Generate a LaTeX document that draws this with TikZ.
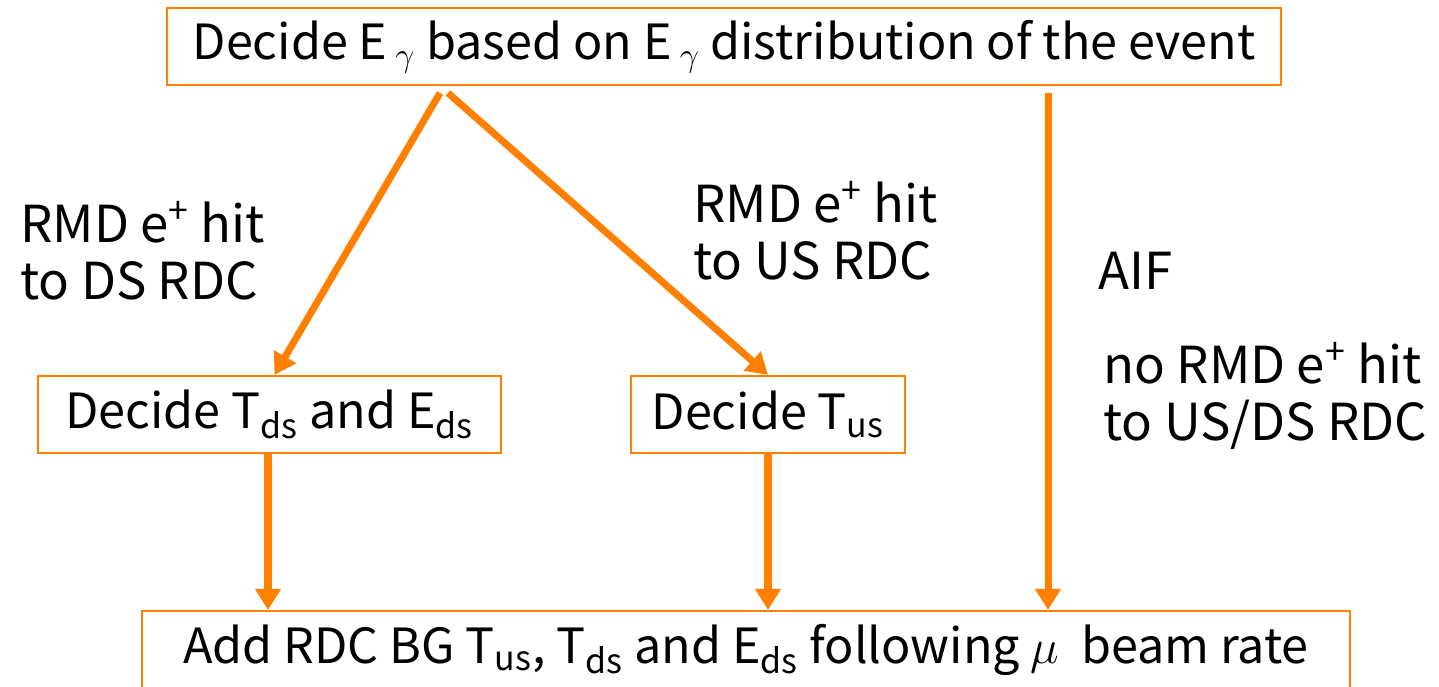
\documentclass[tikz,border=0pt]{standalone}
\usepackage{fix-cm}
\usepackage{fontspec}
\setmainfont{Noto Sans CJK JP}
\usetikzlibrary{arrows.meta, positioning}

\definecolor{flowOrange}{RGB}{255,127,0}

\tikzset{
    stepbox/.style={draw=flowOrange, line width=1.3pt, minimum height=1.54cm, inner sep=0pt,
        font=\fontsize{27.6}{33}\selectfont},
    flowarrow/.style={draw=flowOrange, line width=4pt, -{Triangle[width=14pt, length=12pt]}},
    branchlabel/.style={align=left, anchor=west, inner sep=0pt, font=\fontsize{29}{32.5}\selectfont}
}

\begin{document}
\begin{tikzpicture}[x=0.02cm, y=-0.02cm]
        \useasboundingbox (0,0) rectangle (1439,686);

        % boxes
        \node[stepbox, minimum width=22.28cm] (event) at (724,46.5)
            {Decide E\,$_{\gamma}$\ based on E\,$_{\gamma}$\ distribution of the event};
        \node[stepbox, minimum width=9.26cm] (ds) at (269.5,414.5)
            {Decide T\textsubscript{ds} and E\textsubscript{ds}};
        \node[stepbox, minimum width=5.48cm] (us) at (768,414.5) {Decide T\textsubscript{us}};
        \node[stepbox, minimum width=24.16cm, anchor=north] (add) at (746,610)
            {Add RDC BG T\textsubscript{us}, T\textsubscript{ds} and E\textsubscript{ds} following $\mu$\ \ beam rate};

        % start points of the branches
        \coordinate (forkL) at (440,93);
        \coordinate (forkR) at (448,93);
        \coordinate (aif) at (1048,93);

        \draw[flowarrow] (forkL) -- ([xshift=0.1cm]ds.north);
        \draw[flowarrow] (forkR) -- (us.north);
        \draw[flowarrow] (aif) -- (aif |- add.north);
        \draw[flowarrow] (ds.south -| 268,0) -- (add.north -| 268,0);
        \draw[flowarrow] (us.south) -- (us.south |- add.north);

        % branch labels
        \node[branchlabel] (dslabel) at (20,251) {RMD e\textsuperscript{+} hit\\to DS RDC};
        \node[branchlabel] (uslabel) at (693,231) {RMD e\textsuperscript{+} hit\\to US RDC};
        \node[branchlabel] (aiflabel) at (1098,271) {AIF};
        \node[branchlabel] (nolabel) at (1103,396) {no RMD e\textsuperscript{+} hit\\to US/DS RDC};
\end{tikzpicture}
\end{document}
